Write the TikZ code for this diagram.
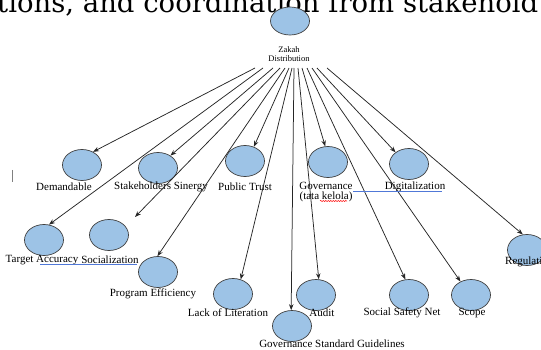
\documentclass[tikz,border=0pt]{standalone}
\usepackage{fontspec}
\setmainfont{Liberation Serif}
\newfontfamily\headfont{DejaVu Serif}
\usetikzlibrary{shapes.geometric,arrows.meta,decorations.pathmorphing}

\definecolor{bubbleblue}{RGB}{157,195,230}
\definecolor{checkblue}{RGB}{80,120,215}

\tikzset{
  bubble/.style={ellipse, draw=black!75, line width=0.7pt, fill=bubbleblue,
    minimum width=39pt, minimum height=31pt, inner sep=0pt},
  lbl/.style={inner sep=0pt, font=\fontsize{11pt}{10pt}\selectfont},
  arr/.style={-{Stealth[length=6pt,width=4.5pt]}, line width=0.75pt, draw=black!85},
  underl/.style={draw=checkblue, line width=0.9pt},
}

\begin{document}
\begin{tikzpicture}[x=1pt, y=-1pt]
    \useasboundingbox (0,0) rectangle (541,350);
    \clip (0,0) rectangle (541,350);

    % heading line, cut off at the top
    \node[anchor=base west, inner sep=0pt, font=\headfont\fontsize{27.5pt}{28pt}\selectfont] (head) at (-3,13) {tions, and coordination from stakehold};

    % root
    \node[bubble, minimum height=28pt] (root) at (290,21) {};
    \node[inner sep=0pt, align=center, font=\fontsize{8.5pt}{9pt}\selectfont] (rootlbl) at (289,54) {Zakah\\Distribution};

    % bubbles
    \node[bubble] (dem) at (82,165) {};
    \node[bubble] (stake) at (158,168) {};
    \node[bubble] (ptrust) at (245,161) {};
    \node[bubble] (gov) at (328,162) {};
    \node[bubble] (digi) at (409,164) {};
    \node[bubble] (tacc) at (44,240) {};
    \node[bubble] (soc) at (109,235) {};
    \node[bubble] (peff) at (158,272) {};
    \node[bubble] (llit) at (233,294) {};
    \node[bubble] (gsg) at (292,326) {};
    \node[bubble] (audit) at (316,295) {};
    \node[bubble] (ssn) at (409,295) {};
    \node[bubble] (scope) at (471,295) {};
    \node[bubble] (reg) at (527,250) {};

    % labels
    \node[lbl] (demlbl) at (64,187) {Demandable};
    \node[lbl] (stakelbl) at (161,187) {Stakeholders Sinergy};
    \node[lbl] (ptrustlbl) at (245,187) {Public Trust};
    \node[lbl, align=center] (govlbl) at (326,192) {Governance\\(tata kelola)};
    \node[lbl] (digilbl) at (415,187) {Digitalization};
    \node[lbl] (tacclbl) at (42,260) {Target Accuracy};
    \node[lbl] (soclbl) at (110,260) {Socialization};
    \node[lbl] (pefflbl) at (153,294) {Program Efficiency};
    \node[lbl] (llitlbl) at (228,313) {Lack of Literation};
    \node[lbl] (auditlbl) at (322,313) {Audit};
    \node[lbl] (ssnlbl) at (402,313) {Social Safety Net};
    \node[lbl] (scopelbl) at (472,313) {Scope};
    \node[lbl] (gsglbl) at (332,344) {Governance Standard Guidelines};
    \node[lbl, anchor=west] (reglbl) at (505,262) {Regulation};

    % fan of start points under the root label
    \foreach \i/\x in {1/255,2/263,3/273,4/280,5/285,6/289,7/292,8/294,9/298,10/302,11/307,12/312,13/317,14/327}
        \coordinate (s\i) at (\x,68);
    \coordinate (soctip) at (135,217);

    % connections
    \foreach \i/\tgt in {1/dem.50,2/tacc.72,3/stake.45,4/soctip,5/peff.92,6/ptrust.58,7/llit.62,8/gsg.93,9/audit.80,10/gov.100,11/ssn.103,12/scope.128,13/digi.139,14/reg.105}
        \draw[arr] (s\i) -- (\tgt);

    % spell-check marks
    \draw[underl] (40,264) -- (137,264);
    \draw[underl] (353,191) -- (442,191);
    \draw[red, line width=0.5pt, decorate, decoration={snake, amplitude=0.6pt, segment length=2.5pt}] (320,201) -- (347,201);
    \draw[black!50, line width=0.6pt] (12,170) -- (12,182);
\end{tikzpicture}
\end{document}
